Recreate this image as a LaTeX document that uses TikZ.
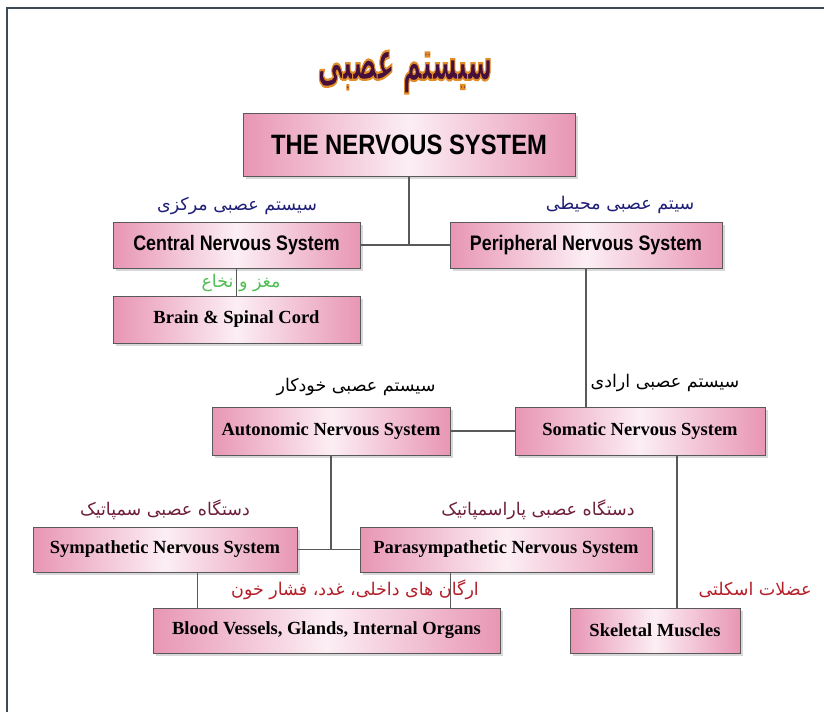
\documentclass[tikz,border=0pt]{standalone}
\usepackage{fontspec}
\usepackage{graphicx}
\setmainfont{Liberation Serif}
\newfontfamily\narrowsans[FakeStretch=0.85]{Liberation Sans}
\newfontfamily\farsi[Script=Arabic]{DejaVu Sans}
\TeXXeTstate=1
\usepackage{tikz}
\usetikzlibrary{positioning}
\usetikzlibrary{calc}
\usetikzlibrary{shadows}
\definecolor{BoxPink}{RGB}{232,150,180}
\definecolor{BoxLight}{RGB}{252,238,244}
\definecolor{Navy}{RGB}{30,30,120}
\definecolor{LeafGreen}{RGB}{80,190,80}
\definecolor{Maroon}{RGB}{110,30,60}
\definecolor{DarkRed}{RGB}{180,30,40}
\definecolor{TitlePurple}{RGB}{70,15,60}
\definecolor{FrameGray}{RGB}{60,75,85}
\newcommand{\orangeoutline}[1]{\special{pdf:literal 0.88 0.55 0.16 RG 1.6 w 2 Tr}#1\special{pdf:literal 0 Tr}}
\tikzset{
  box/.style={draw=black!65, line width=0.8pt, left color=BoxPink, right color=BoxPink,
    middle color=BoxLight, drop shadow={shadow xshift=2.5pt, shadow yshift=-2.5pt, fill=black!30},
    inner sep=0pt, font=\bfseries\fontsize{18.5}{20}\selectfont},
  sansbox/.style={box, font=\narrowsans\bfseries\fontsize{21}{23}\selectfont},
  fa/.style={inner sep=0pt, font=\farsi\fontsize{17.5}{20}\selectfont},
  link/.style={draw=black!65, line width=1.3pt},
}

\begin{document}
\begin{tikzpicture}[x=1pt, y=-1pt, >=latex]
      \useasboundingbox (0,0) rectangle (824,712);
      \draw[FrameGray, line width=1.5pt] (7,712) -- (7,8) -- (824,8);

      \node[text=TitlePurple, font=\farsi\bfseries\fontsize{40}{44}\selectfont] at (405,72) (title) {\scalebox{0.62}[1.4]{\orangeoutline{\beginR سیستم عصبی\endR}}};

      \node[sansbox, minimum width=332pt, minimum height=63pt, font=\narrowsans\bfseries\fontsize{28}{30}\selectfont] at (409,144.5) (ns) {THE NERVOUS SYSTEM};
      \node[sansbox, minimum width=247pt, minimum height=46pt] at (236.5,245) (cns) {Central Nervous System};
      \node[sansbox, minimum width=272pt, minimum height=46pt] at (586,245) (pns) {Peripheral Nervous System};
      \node[box, minimum width=247pt, minimum height=47pt] at (236.5,319.5) (brain) {Brain \& Spinal Cord};
      \node[box, minimum width=238pt, minimum height=48pt] at (331,431) (ans) {Autonomic Nervous System};
      \node[box, minimum width=250pt, minimum height=48pt] at (640,431) (sms) {Somatic Nervous System};
      \node[box, minimum width=264pt, minimum height=45pt] at (165,549.5) (sym) {Sympathetic Nervous System};
      \node[box, minimum width=292pt, minimum height=45pt] at (506,549.5) (para) {Parasympathetic Nervous System};
      \node[box, minimum width=347pt, minimum height=45pt] at (326.5,630.5) (blood) {Blood Vessels, Glands, Internal Organs};
      \node[box, minimum width=170pt, minimum height=45pt] at (655,630.5) (skm) {Skeletal Muscles};

      \node[fa, text=Navy] at (237,206) (cnsfa) {\beginR سیستم عصبی مرکزی\endR};
      \node[fa, text=Navy] at (620,205) (pnsfa) {\beginR سیتم عصبی محیطی\endR};
      \node[fa, text=LeafGreen] at (241,283) (brainfa) {\beginR مغز و نخاع\endR};
      \node[fa] at (356,387) (ansfa) {\beginR سیستم عصبی خودکار\endR};
      \node[fa] at (665,383) (smsfa) {\beginR سیستم عصبی ارادی\endR};
      \node[fa, text=Maroon] at (165,510) (symfa) {\beginR دستگاه عصبی سمپاتیک\endR};
      \node[fa, text=Maroon] at (538,510) (parafa) {\beginR دستگاه عصبی پاراسمپاتیک\endR};
      \node[fa, text=DarkRed] at (355,590) (bloodfa) {\beginR ارگان های داخلی، غدد، فشار خون\endR};
      \node[fa, text=DarkRed] at (755,590) (skmfa) {\beginR عضلات اسکلتی\endR};

      \coordinate (bv1) at ($(blood.north west)+(45,0)$);
      \coordinate (bv2) at ($(blood.north east)+(-50,0)$);
      \coordinate (sv) at ($(skm.north)+(22,0)$);

      \draw[link] (ns.south) -- (ns.south |- cns.east);
      \draw[link] (cns.east) -- (pns.west);
      \draw[link] (cns.south) -- (brain.north);
      \draw[link] (pns.south) -- (pns.south |- sms.north);
      \draw[link] (ans.east) -- (sms.west);
      \draw[link] (ans.south) -- (ans.south |- sym.east);
      \draw[link] (sym.east) -- (para.west);
      \draw[link] (bv1) -- (bv1 |- sym.south);
      \draw[link] (bv2) -- (bv2 |- para.south);
      \draw[link] (sv) -- (sv |- sms.south);
    \end{tikzpicture}
\end{document}
